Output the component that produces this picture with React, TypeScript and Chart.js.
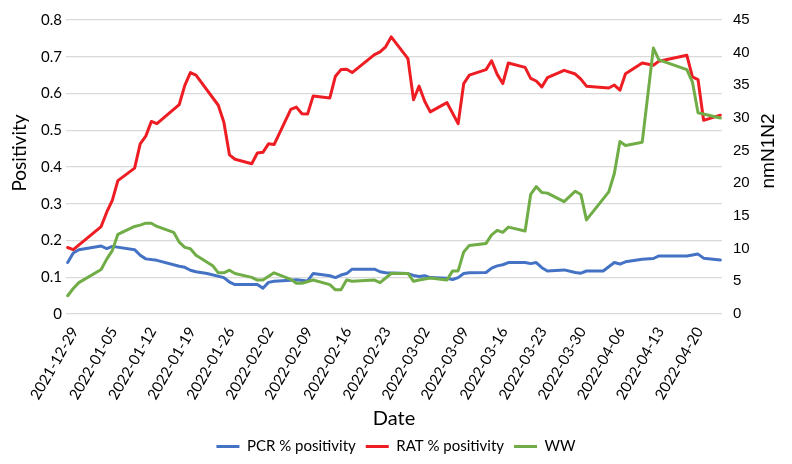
import React, { useEffect, useRef } from 'react';
import { Chart, registerables } from 'chart.js';

Chart.register(...registerables);

// Tick labels (every 7 days starting at 2021-12-29 = day 0)
const tickLabels = [
  '2021-12-29', '2022-01-05', '2022-01-12', '2022-01-19', '2022-01-26',
  '2022-02-02', '2022-02-09', '2022-02-16', '2022-02-23', '2022-03-02',
  '2022-03-09', '2022-03-16', '2022-03-23', '2022-03-30', '2022-04-06',
  '2022-04-13', '2022-04-20',
];

// PCR % positivity (left axis), by day offset from 2021-12-29
const pcrDays = [0,1,2,6,7,8,12,13,14,16,20,21,22,23,25,28,29,30,34,35,36,37,40,41,43,44,47,48,49,50,51,55,56,57,61,62,63,64,65,68,69,70,71,72,75,76,77,78,79,82,83,84,85,86,89,91,92,93,96,98,99,100,103,105,106,111,113,114,117];
const pcrValues = [0.140,0.166,0.175,0.185,0.178,0.184,0.175,0.160,0.150,0.146,0.130,0.127,0.119,0.115,0.110,0.099,0.087,0.080,0.080,0.070,0.086,0.089,0.092,0.093,0.090,0.110,0.104,0.099,0.106,0.110,0.122,0.122,0.115,0.112,0.110,0.105,0.102,0.104,0.099,0.097,0.094,0.099,0.110,0.112,0.113,0.125,0.131,0.134,0.140,0.140,0.137,0.140,0.126,0.117,0.120,0.113,0.111,0.117,0.117,0.140,0.136,0.142,0.149,0.151,0.158,0.158,0.163,0.152,0.147];

// RAT % positivity (left axis)
const ratDays = [0,1,6,7,8,9,12,13,14,15,16,20,21,22,23,27,28,29,30,33,34,35,36,37,40,41,42,43,44,47,48,49,50,51,55,56,57,58,61,62,63,64,65,68,70,71,72,75,76,77,78,79,82,83,84,85,86,89,91,92,93,97,98,99,100,103,105,106,111,112,113,114,117];
const ratValues = [0.181,0.175,0.238,0.277,0.309,0.363,0.397,0.463,0.484,0.524,0.518,0.570,0.622,0.657,0.650,0.568,0.522,0.433,0.421,0.409,0.438,0.440,0.463,0.461,0.557,0.563,0.545,0.544,0.593,0.588,0.647,0.665,0.666,0.657,0.706,0.713,0.727,0.754,0.695,0.583,0.620,0.579,0.550,0.575,0.518,0.627,0.650,0.665,0.689,0.652,0.627,0.683,0.671,0.641,0.634,0.618,0.643,0.663,0.653,0.639,0.620,0.615,0.623,0.609,0.654,0.683,0.677,0.688,0.704,0.645,0.638,0.527,0.541];

// WW nmN1N2 (right axis)
const wwDays = [0,1,2,6,7,8,9,12,13,14,15,16,19,20,21,22,23,26,27,28,29,30,33,34,35,37,40,41,42,44,47,48,49,50,51,55,56,58,61,62,63,65,68,69,70,71,72,75,76,77,78,79,82,83,84,85,86,89,91,92,93,97,98,99,100,103,105,106,111,112,113,117];
const wwValues = [2.8,3.9,4.8,6.8,8.4,9.7,12.2,13.4,13.6,13.9,13.9,13.4,12.5,11.0,10.2,10.0,9.0,7.4,6.3,6.3,6.7,6.2,5.6,5.2,5.2,6.3,5.3,4.7,4.7,5.2,4.5,3.7,3.7,5.2,5.0,5.2,4.8,6.2,6.2,5.0,5.2,5.5,5.2,6.6,6.6,9.5,10.5,10.8,12.1,12.8,12.5,13.3,12.7,18.3,19.5,18.6,18.5,17.2,18.8,18.3,14.4,18.7,21.5,26.4,25.8,26.3,40.7,38.9,37.4,35.5,30.8,30.0];

const seriesNames = ['PCR % positivity', 'RAT % positivity', 'WW'];
const leftTitle = 'Positivity';
const rightTitle = 'nmN1N2';
const xTitle = 'Date';

const toPoints = (days: number[], vals: number[]) => days.map((d, i) => ({ x: d, y: vals[i] }));

const MAIN_FONT = 'Lato';
const RIGHT_FONT = 'Liberation Sans';

const axisTitlesPlugin = {
  id: 'axisTitles',
  afterDraw(chart: any) {
    const { ctx, chartArea } = chart;
    const midY = (chartArea.top + chartArea.bottom) / 2 - 14;
    ctx.save();
    ctx.fillStyle = '#000';
    ctx.textAlign = 'center';
    ctx.textBaseline = 'middle';
    ctx.font = `19px ${MAIN_FONT}`;
    ctx.translate(20, midY);
    ctx.rotate(-Math.PI / 2);
    ctx.fillText(leftTitle, 0, 0);
    ctx.restore();
    ctx.save();
    ctx.fillStyle = '#000';
    ctx.textAlign = 'center';
    ctx.textBaseline = 'middle';
    ctx.font = `19px "${RIGHT_FONT}"`;
    ctx.translate(769, midY - 2);
    ctx.rotate(-Math.PI / 2);
    ctx.fillText(rightTitle, 0, 0);
    ctx.restore();
  },
};

export default function App() {
  const ref = useRef<HTMLCanvasElement | null>(null);

  useEffect(() => {
    if (!ref.current) return;
    const chart = new Chart(ref.current, {
      type: 'line',
      data: {
        datasets: [
          {
            label: seriesNames[0],
            data: toPoints(pcrDays, pcrValues),
            borderColor: '#4472C4',
            backgroundColor: '#4472C4',
            borderWidth: 3,
            yAxisID: 'y',
            order: 2,
          },
          {
            label: seriesNames[1],
            data: toPoints(ratDays, ratValues),
            borderColor: '#EE1D23',
            backgroundColor: '#EE1D23',
            borderWidth: 3,
            yAxisID: 'y',
            order: 1,
          },
          {
            label: seriesNames[2],
            data: toPoints(wwDays, wwValues),
            borderColor: '#70AD47',
            backgroundColor: '#70AD47',
            borderWidth: 3,
            yAxisID: 'y1',
            order: 0,
          },
        ],
      },
      options: {
        animation: false,
        responsive: false,
        maintainAspectRatio: false,
        layout: { padding: { top: 20, left: 0, right: 0, bottom: 0 } },
        elements: {
          point: { radius: 0, hoverRadius: 0 },
          line: { tension: 0, borderWidth: 3, borderJoinStyle: 'round', borderCapStyle: 'round' },
        },
        plugins: {
          tooltip: { enabled: false },
          legend: {
            position: 'bottom',
            labels: {
              usePointStyle: true,
              pointStyle: 'line',
              pointStyleWidth: 23,
              padding: 10,
              color: '#000',
              font: { family: MAIN_FONT, size: 15 },
              sort: (a: any, b: any) => a.datasetIndex - b.datasetIndex,
            },
          },
        },
        scales: {
          x: {
            type: 'linear',
            min: -0.3,
            max: 117.3,
            grid: { display: false },
            border: { display: false },
            afterBuildTicks: (s: any) => {
              s.ticks = tickLabels.map((_, i) => ({ value: i * 7 }));
            },
            afterFit: (s: any) => {
              s.height = 115;
            },
            ticks: {
              autoSkip: false,
              minRotation: 60,
              maxRotation: 60,
              labelOffset: 7,
              padding: 2,
              color: '#000',
              font: { family: MAIN_FONT, size: 15 },
              callback: (v: any) => tickLabels[Math.round(Number(v) / 7)] ?? '',
            },
            title: {
              display: true,
              text: xTitle,
              color: '#000',
              font: { family: MAIN_FONT, size: 20, lineHeight: 1 },
              padding: { top: 0, bottom: 0 },
            },
          },
          y: {
            position: 'left',
            min: 0,
            max: 0.8,
            afterFit: (s: any) => {
              s.width = 66;
            },
            grid: { color: '#d9d9d9', lineWidth: 1.3, drawTicks: false },
            border: { display: false },
            ticks: {
              stepSize: 0.1,
              padding: 4,
              color: '#000',
              font: { family: MAIN_FONT, size: 15 },
              callback: (v: any) => (Number(v) === 0 ? '0' : Number(v).toFixed(1)),
            },
          },
          y1: {
            position: 'right',
            min: 0,
            max: 45,
            afterFit: (s: any) => {
              s.width = 70;
            },
            grid: { display: false, drawTicks: false },
            border: { display: false },
            ticks: {
              stepSize: 5,
              padding: 11,
              color: '#000',
              font: { family: RIGHT_FONT, size: 15 },
            },
          },
        },
      },
      plugins: [axisTitlesPlugin],
    } as any);
    return () => chart.destroy();
  }, []);

  return (
    <div style={{ position: 'absolute', left: 0, top: 0, width: 792, height: 464, background: '#fff' }}>
      <canvas ref={ref} width={792} height={464} style={{ width: 792, height: 464, display: 'block' }} />
    </div>
  );
}
